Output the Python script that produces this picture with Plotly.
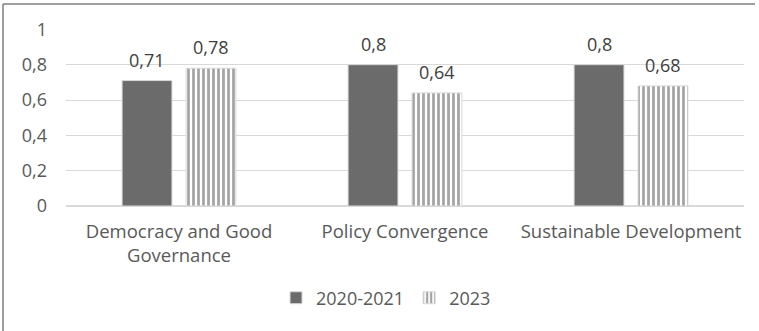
import plotly.graph_objects as go

categories = ["Democracy and Good<br>Governance", "Policy Convergence", "Sustainable Development"]
series_names = ["2020-2021", "2023"]
values_2020_2021 = [0.71, 0.80, 0.80]
values_2023 = [0.78, 0.64, 0.68]
y_ticks = [0, 0.2, 0.4, 0.6, 0.8, 1]

FONT = "Open Sans"
GREY_TEXT = "#595959"


def fmt(v):
    return f"{v:g}".replace(".", ",")


fig = go.Figure()
fig.add_trace(go.Bar(
    name=series_names[0], x=categories, y=values_2020_2021,
    marker=dict(color="#6b6b6b", line=dict(color="#d9d9d9", width=1)),
))
fig.add_trace(go.Bar(
    name=series_names[1], x=categories, y=values_2023,
    marker=dict(
        color="white",
        line=dict(color="#d9d9d9", width=1),
        pattern=dict(shape="|", fgcolor="#4a4a4a", bgcolor="white",
                     size=5, solidity=0.55, fillmode="overlay"),
    ),
))

# value labels above each bar
annotations = []
for i, cat in enumerate(categories):
    for vals, shift in ((values_2020_2021, -32), (values_2023, 32)):
        annotations.append(dict(
            x=cat, y=vals[i], xref="x", yref="y", text=fmt(vals[i]),
            showarrow=False, xshift=shift, yshift=7, yanchor="bottom",
            font=dict(family=FONT, size=18, color="#404040"),
        ))

fig.update_layout(
    width=759, height=331,
    margin=dict(l=66, r=15, t=29, b=125),
    paper_bgcolor="white", plot_bgcolor="white",
    separators=",.",
    barmode="group", bargap=0.434, bargroupgap=0.22,
    font=dict(family=FONT, size=18, color=GREY_TEXT),
    showlegend=True,
    legend=dict(orientation="h", x=0.472, xanchor="center", y=-0.52, yanchor="middle",
                font=dict(family=FONT, size=18, color=GREY_TEXT),
                itemwidth=30, tracegroupgap=0),
    annotations=annotations,
    shapes=[
        dict(type="line", xref="paper", yref="paper", x0=-63/678, x1=689/678,
             y0=(206 - 4) / 177, y1=(206 - 4) / 177, line=dict(color="#7f7f7f", width=1.5)),
        dict(type="line", xref="paper", yref="paper", x0=-63/678, x1=-63/678,
             y0=(206 - 4) / 177, y1=(206 - 331) / 177, line=dict(color="#7f7f7f", width=1.5)),
    ],
)
fig.update_yaxes(
    range=[0, 1.002], tickvals=y_ticks, showgrid=True, gridcolor="#d9d9d9", gridwidth=1,
    zeroline=True, zerolinecolor="#d9d9d9", showline=False,
    ticks="", ticklabelstandoff=18, tickfont=dict(family=FONT, size=18, color=GREY_TEXT),
)
fig.update_xaxes(
    showline=False, ticks="", showgrid=False,
    tickfont=dict(family=FONT, size=18.5, color=GREY_TEXT), ticklabelstandoff=12,
)

fig.write_html("out.html")
